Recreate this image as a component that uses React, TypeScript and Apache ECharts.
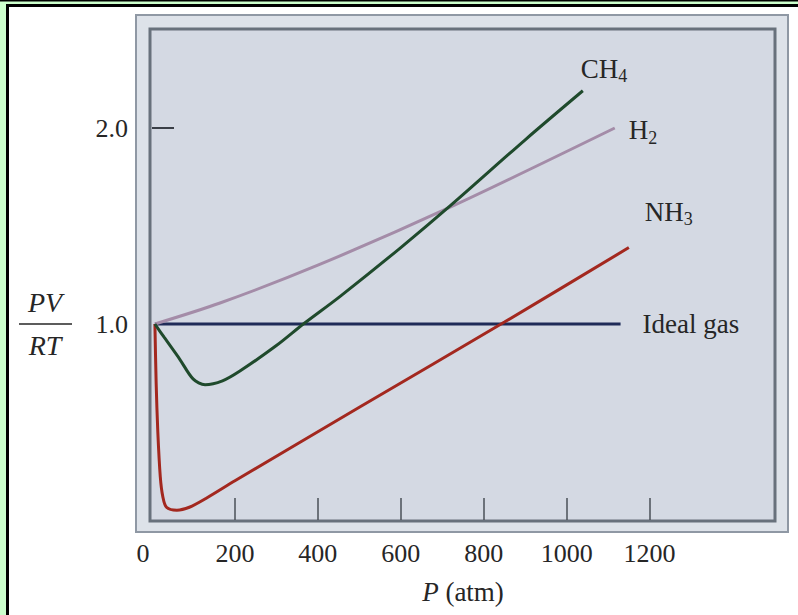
import React, { useEffect, useRef } from "react";
import * as echarts from "echarts";

// ---- data (P in atm, PV/RT) ----
const idealP = [7, 1130];
const idealV = [1.0, 1.0];

const h2P = [7, 164, 400, 723, 1116];
const h2V = [1.0, 1.107, 1.3, 1.6, 2.0];

const ch4P = [7, 30, 67, 99, 128, 170, 212, 300, 365, 453, 600, 723, 900, 1039];
const ch4V = [1.0, 0.93, 0.82, 0.72, 0.69, 0.71, 0.76, 0.89, 1.0, 1.14, 1.39, 1.61, 1.94, 2.19];

const nh3P = [7, 10, 14, 20, 26, 35, 60, 90, 130, 200, 500, 850, 1150];
const nh3V = [1.0, 0.7, 0.45, 0.22, 0.12, 0.065, 0.05, 0.065, 0.11, 0.2, 0.575, 1.01, 1.39];

const xLabelValues = [0, 200, 400, 600, 800, 1000, 1200];
const xTickValues = [200, 400, 600, 800, 1000, 1200];
const yLabelValues = [1.0, 2.0];
const yTickValues = [2.0];

const SERIF = "'Liberation Serif', 'DejaVu Serif', serif";
const INK = "#262626";

const zip = (xs: number[], ys: number[]) => xs.map((x, i) => [x, ys[i]]);

const subRich = {
  m: { fontFamily: SERIF, fontSize: 27, color: INK },
  s: { fontFamily: SERIF, fontSize: 18, color: INK, padding: [15, 0, 0, 0] },
};

export default function App() {
  const ref = useRef<HTMLDivElement>(null);
  useEffect(() => {
    if (!ref.current) return;
    const chart = echarts.init(ref.current, null, { renderer: "svg" });
    const lineSeries = (
      name: string,
      data: number[][],
      color: string,
      label: string,
      offset: number[],
      smooth: number
    ) => ({
      type: "line",
      name,
      data,
      smooth,
      showSymbol: false,
      symbol: "none",
      lineStyle: { color, width: 3 },
      z: 5,
      endLabel: {
        show: true,
        formatter: () => label,
        offset,
        align: "left",
        verticalAlign: "middle",
        rich: subRich,
      },
    });
    chart.setOption({
      animation: false,
      backgroundColor: "#ffffff",
      grid: { left: 152, top: 30, right: 24, bottom: 95, containLabel: false },
      xAxis: {
        type: "value",
        min: 0,
        max: 1500,
        interval: 100,
        axisLine: { show: false },
        splitLine: { show: false },
        axisTick: {
          show: true,
          inside: true,
          length: 22,
          customValues: xTickValues,
          lineStyle: { color: "#4a4f57", width: 1.5 },
        },
        axisLabel: {
          show: true,
          customValues: xLabelValues,
          margin: 20,
          fontFamily: SERIF,
          fontSize: 26,
          color: INK,
          formatter: (v: number) => (v === 0 ? "{z|0}" : String(v)),
          rich: { z: { fontFamily: SERIF, fontSize: 26, color: INK, padding: [0, 18, 0, 0] } },
        },
        name: "{i|P} (atm)",
        nameLocation: "middle",
        nameGap: 58,
        nameTextStyle: {
          fontFamily: SERIF,
          fontSize: 27,
          color: INK,
          rich: {
            i: { fontFamily: SERIF, fontStyle: "italic", fontSize: 27, color: INK },
          },
        },
      },
      yAxis: {
        type: "value",
        min: 0,
        max: 2.5,
        interval: 0.5,
        axisLine: { show: false },
        splitLine: { show: false },
        axisTick: {
          show: true,
          inside: true,
          length: 22,
          customValues: yTickValues,
          lineStyle: { color: "#3a3f47", width: 2 },
        },
        axisLabel: {
          show: true,
          customValues: yLabelValues,
          margin: 24,
          fontFamily: SERIF,
          fontSize: 26,
          color: INK,
          formatter: (v: number) => v.toFixed(1),
        },
      },
      graphic: [
        // page frame
        { type: "rect", shape: { x: 0, y: 0, width: 6, height: 615 }, style: { fill: "#ccffcc" }, z: 100 },
        { type: "rect", shape: { x: 0, y: 1, width: 798, height: 3 }, style: { fill: "#ccffcc" }, z: 100 },
        { type: "rect", shape: { x: 0, y: 0, width: 798, height: 1.5 }, style: { fill: "#000" }, z: 100 },
        { type: "rect", shape: { x: 6, y: 4, width: 792, height: 3 }, style: { fill: "#000" }, z: 100 },
        { type: "rect", shape: { x: 6, y: 4, width: 3, height: 611 }, style: { fill: "#000" }, z: 100 },
        // plot panel
        {
          type: "rect",
          z: -10,
          silent: true,
          shape: { x: 136, y: 15, width: 652, height: 517 },
          style: { fill: "#dde2e9", stroke: "#8f98a4", lineWidth: 2 },
        },
        {
          type: "rect",
          z: -9,
          silent: true,
          shape: { x: 150, y: 29, width: 625, height: 492 },
          style: { fill: "#d4d9e3", stroke: "#68717c", lineWidth: 3 },
        },
        // PV / RT
        {
          type: "text",
          x: 45,
          y: 302,
          style: {
            text: "PV",
            fontFamily: SERIF,
            fontStyle: "italic",
            fontSize: 28,
            fill: INK,
            align: "center",
            verticalAlign: "middle",
          },
        },
        {
          type: "line",
          shape: { x1: 19, y1: 324, x2: 72, y2: 324 },
          style: { stroke: INK, lineWidth: 1.5 },
        },
        {
          type: "text",
          x: 45,
          y: 345,
          style: {
            text: "RT",
            fontFamily: SERIF,
            fontStyle: "italic",
            fontSize: 28,
            fill: INK,
            align: "center",
            verticalAlign: "middle",
          },
        },
      ],
      series: [
        lineSeries("Ideal gas", zip(idealP, idealV), "#1f2b58", "{m|Ideal gas}", [14, 0], 0),
        lineSeries("H2", zip(h2P, h2V), "#a48ca8", "{m|H}{s|2}", [6, 2], 0.3),
        lineSeries("NH3", zip(nh3P, nh3V), "#a3281f", "{m|NH}{s|3}", [8, -36], 0.3),
        lineSeries("CH4", zip(ch4P, ch4V), "#1f4a2c", "{m|CH}{s|4}", [-10, -22], 0.3),
      ],
    });
    return () => chart.dispose();
  }, []);
  return (
    <div
      ref={ref}
      style={{ position: "fixed", left: 0, top: 0, width: 798, height: 615 }}
    />
  );
}
